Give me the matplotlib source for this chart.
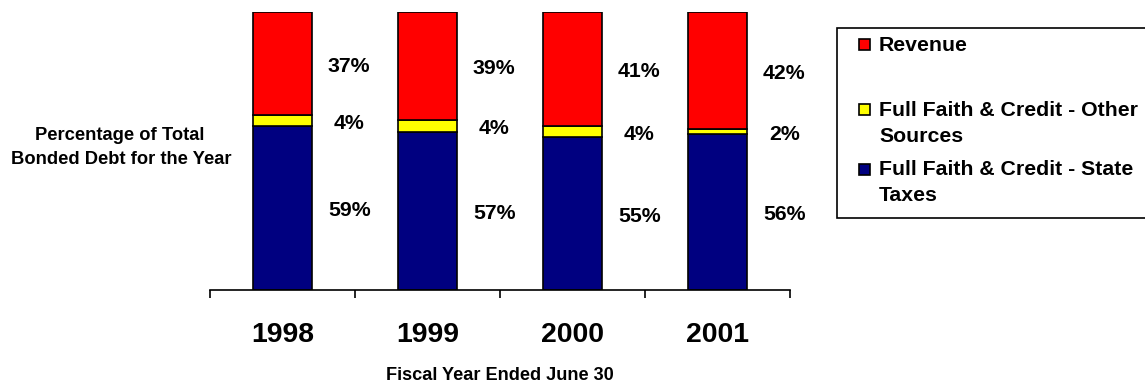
import matplotlib
matplotlib.use("Agg")
import matplotlib.pyplot as plt
from matplotlib.patches import Rectangle
import numpy as np

plt.rcParams['font.family'] = ['Liberation Sans', 'DejaVu Sans']
plt.rcParams['font.weight'] = 'bold'

years = ["1998", "1999", "2000", "2001"]
state_taxes = [59, 57, 55, 56]
other_sources = [4, 4, 4, 2]
revenue = [37, 39, 41, 42]
series_names = ["Revenue", "Full Faith & Credit - Other\nSources", "Full Faith & Credit - State\nTaxes"]
colors = {"state": "#000080", "other": "#FFFF00", "revenue": "#FF0000"}

W, H = 1145, 385
fig = plt.figure(figsize=(W / 100, H / 100), dpi=100)
ax = fig.add_axes([210 / W, 1 - 290 / H, (790 - 210) / W, (290 - 12) / H])

x = np.arange(len(years))
bw = 0.41
lw = 1.2
ax.bar(x, state_taxes, bw, color=colors["state"], edgecolor="black", linewidth=lw)
ax.bar(x, other_sources, bw, bottom=state_taxes, color=colors["other"], edgecolor="black", linewidth=lw)
bottom3 = [a + b for a, b in zip(state_taxes, other_sources)]
ax.bar(x, revenue, bw, bottom=bottom3, color=colors["revenue"], edgecolor="black", linewidth=lw)

# percentage labels
for i in range(len(years)):
    segs = [(0, state_taxes[i]), (state_taxes[i], other_sources[i]), (bottom3[i], revenue[i])]
    for (b, v) in segs:
        ax.text(x[i] + 0.46, b + v / 2 - 1.0, f"{v}%", ha="center", va="center",
                fontsize=15.3, fontweight="bold")

ax.set_xlim(-0.5, len(years) - 0.5)
ax.set_ylim(0, 100)
for s in ["top", "right", "left"]:
    ax.spines[s].set_visible(False)
ax.spines["bottom"].set_linewidth(1.2)
ax.set_yticks([])
ax.set_xticks(np.arange(-0.5, len(years)), labels=[""] * (len(years) + 1))
ax.tick_params(axis="x", which="major", direction="out", length=6, width=1.2)
ax.set_xticks(x, labels=years, minor=True)
ax.tick_params(axis="x", which="minor", length=0, pad=23, labelsize=20.4)
for t in ax.get_xticklabels(minor=True):
    t.set_fontweight("bold")

fig.text(500 / W, 1 - 376 / H, "Fiscal Year Ended June 30", ha="center", va="center",
         fontsize=13.1, fontweight="bold")
fig.text(120 / W, 1 - 136 / H, "Percentage of Total", ha="center", va="center",
         fontsize=13.2, fontweight="bold")
fig.text(121 / W, 1 - 160 / H, "Bonded Debt for the Year", ha="center", va="center",
         fontsize=13.2, fontweight="bold")

# legend box
fig.patches.append(Rectangle((837 / W, 1 - 218 / H), (1170 - 837) / W, (218 - 28) / H,
                             transform=fig.transFigure, facecolor="white", edgecolor="black",
                             linewidth=1.2, clip_on=False))
leg_items = [(colors["revenue"], 44.5), (colors["other"], 109), (colors["state"], 169)]
for (c, yc), name in zip(leg_items, series_names):
    fig.patches.append(Rectangle((859 / W, 1 - (yc + 5.5) / H), 11 / W, 11 / H,
                                 transform=fig.transFigure, facecolor=c, edgecolor="black",
                                 linewidth=1.2))
    for k, line in enumerate(name.split("\n")):
        fig.text(879 / W, 1 - (yc + 1 + 26 * k) / H, line, ha="left", va="center",
                 fontsize=15.3, fontweight="bold")

fig.savefig("out.png", dpi=100)
